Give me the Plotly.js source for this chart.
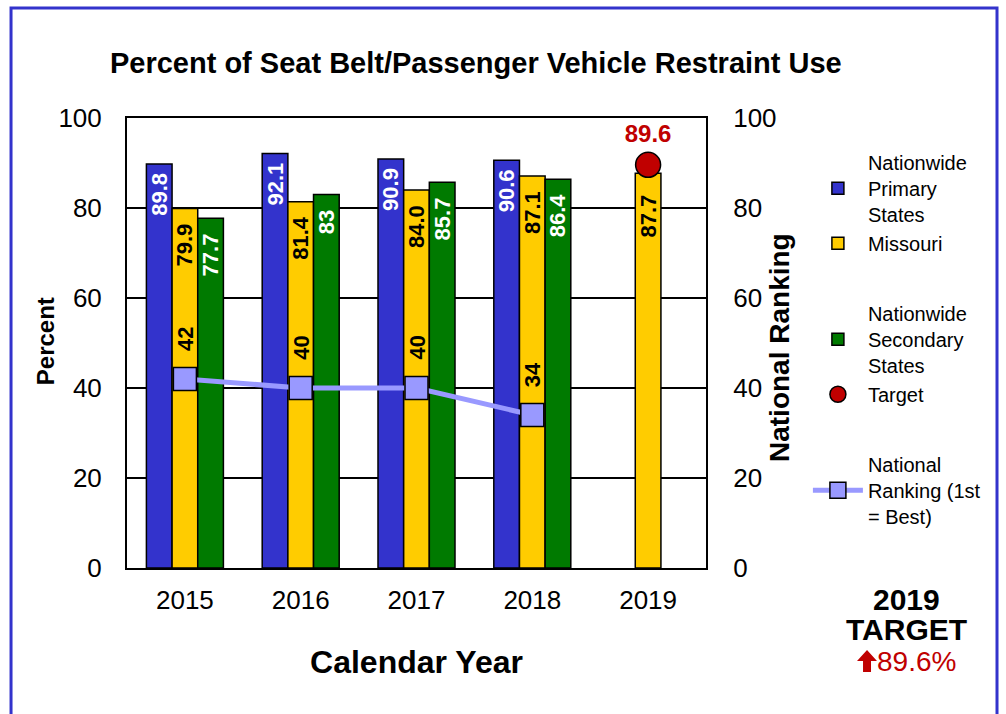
<!DOCTYPE html>
<html>
<head>
<meta charset="utf-8">
<script src="https://cdn.plot.ly/plotly-3.0.1.min.js"></script>
<style>
  html, body { margin: 0; padding: 0; background: #fff; }
  #chart { width: 1006px; height: 714px; }
</style>
</head>
<body>
<div id="chart"></div>
<script>
const years = ['2015', '2016', '2017', '2018', '2019'];
const primaryStates = [89.8, 92.1, 90.9, 90.6, null];
const missouri = [79.9, 81.4, 84.0, 87.1, 87.7];
const secondaryStates = [77.7, 83, 85.7, 86.4, null];
const rankYears = ['2015', '2016', '2017', '2018'];
const ranking = [42, 40, 40, 34];
const targetYear = ['2019'];
const target = [89.6];

const FONT = 'Liberation Sans, Arial, sans-serif';
const NB = '\u00A0';
// labels sit a little below the bar top, as in the original
const fmt = (v, pad) => (v == null ? '' : String(v) + NB.repeat(pad));
const fmt1 = (v, pad) => (v == null ? '' : v.toFixed(1) + NB.repeat(pad));

function barTrace(name, group, values, color, textColor, labels) {
  return {
    type: 'bar',
    name: name,
    legendgroup: group,
    x: years,
    y: values,
    text: labels,
    textposition: 'inside',
    insidetextanchor: 'end',
    textangle: -90,
    constraintext: 'none',
    textfont: { family: FONT, size: 22, color: textColor, weight: 'bold' },
    marker: { color: color, line: { color: '#000', width: 1.5 } },
    hoverinfo: 'x+y'
  };
}

const data = [
  barTrace('Nationwide<br>Primary<br>States', 'g1', primaryStates, '#3333CC', '#fff',
    primaryStates.map(v => fmt(v, 1))),
  barTrace('Missouri', 'g1', missouri, '#FFCC00', '#000',
    missouri.map((v, i) => fmt1(v, primaryStates[i] == null ? 3 : 2))),
  barTrace('Nationwide<br>Secondary<br>States', 'g2', secondaryStates, '#007A00', '#fff',
    secondaryStates.map(v => fmt(v, 2))),
  {
    type: 'scatter',
    mode: 'markers+text',
    name: 'Target',
    legendgroup: 'g2',
    x: targetYear,
    y: target,
    text: target.map(String),
    textposition: 'top center',
    textfont: { family: FONT, size: 24, color: '#C00000', weight: 'bold' },
    marker: { color: '#C00000', size: 25, line: { color: '#000', width: 1.5 } }
  },
  {
    type: 'scatter',
    mode: 'lines+markers',
    name: 'National<br>Ranking (1st<br>= Best)',
    legendgroup: 'g3',
    x: rankYears,
    y: ranking,
    yaxis: 'y2',
    line: { color: '#9999FF', width: 5 },
    marker: { symbol: 'square', color: '#9999FF', size: 23, line: { color: '#000', width: 1.5 } }
  }
];

// rank labels above the markers (category axis: position by index)
const annotations = rankYears.map((yr, i) => ({
  x: years.indexOf(yr), y: ranking[i], xref: 'x', yref: 'y2',
  text: String(ranking[i]), showarrow: false, textangle: -90,
  xanchor: 'center', yanchor: 'middle', yshift: 40,
  font: { family: FONT, size: 22, color: '#000', weight: 'bold' }
}));

const paperText = (x, y, text, size, color, bold, angle) => ({
  xref: 'paper', yref: 'paper', x: x, y: y, text: text, showarrow: false,
  xanchor: 'center', yanchor: 'middle', textangle: angle || 0,
  font: { family: FONT, size: size, color: color, weight: bold ? 'bold' : 'normal' }
});

annotations.push(
  paperText(-0.1416, 0.504, 'Percent', 24, '#000', true, -90),
  paperText(1.126, 0.491, 'National Ranking', 28, '#000', true, -90),
  paperText(1.347, -0.071, '2019', 30, '#000', true),
  paperText(1.347, -0.136, 'TARGET', 30, '#000', true),
  paperText(1.3644, -0.2067, '89.6%', 28, '#C00000', false)
);

const axisCommon = {
  range: [0, 100],
  dtick: 20,
  showline: true,
  linecolor: '#000',
  linewidth: 2,
  gridcolor: '#000',
  gridwidth: 1.5,
  zeroline: false,
  ticks: '',
  tickfont: { family: FONT, size: 26, color: '#000' },
  fixedrange: true
};

const layout = {
  width: 1006,
  height: 714,
  paper_bgcolor: '#fff',
  plot_bgcolor: '#fff',
  font: { family: FONT, color: '#000' },
  margin: { l: 127, r: 300, t: 118, b: 146 },
  title: {
    text: 'Percent of Seat Belt/Passenger Vehicle Restraint Use',
    font: { family: FONT, size: 29, color: '#000', weight: 'bold' },
    xref: 'container', x: 0.473, xanchor: 'center',
    yref: 'container', y: 0.912, yanchor: 'middle'
  },
  barmode: 'group',
  bargap: 0.335,
  bargroupgap: 0,
  showlegend: true,
  legend: {
    x: 1.176, xanchor: 'left', y: 0.945, yanchor: 'top',
    font: { family: FONT, size: 20, color: '#000' },
    traceorder: 'grouped',
    tracegroupgap: 41,
    itemwidth: 50,
    bgcolor: 'rgba(0,0,0,0)'
  },
  xaxis: {
    type: 'category',
    range: [-0.5, 4.5],
    showline: true,
    mirror: true,
    linecolor: '#000',
    linewidth: 2,
    ticks: '',
    ticklabelstandoff: 8,
    tickfont: { family: FONT, size: 26, color: '#000' },
    title: { text: 'Calendar Year', standoff: 36,
      font: { family: FONT, size: 32, color: '#000', weight: 'bold' } },
    fixedrange: true
  },
  yaxis: Object.assign({}, axisCommon, {
    mirror: true,
    ticklabelstandoff: 18
  }),
  yaxis2: Object.assign({}, axisCommon, {
    overlaying: 'y',
    side: 'right',
    showgrid: false,
    ticklabelstandoff: 20
  }),
  annotations: annotations,
  shapes: [
    {
      type: 'rect', xref: 'paper', yref: 'paper',
      x0: -0.2003, x1: 1.5026, y0: -0.4, y1: 1.2444,
      line: { color: '#3333CC', width: 3 }, layer: 'below'
    },
    {
      // red up-arrow in front of the target value
      type: 'path', xref: 'paper', yref: 'paper',
      path: 'M 1.2608,-0.2067 L 1.2781,-0.1822 L 1.2953,-0.2067 L 1.2850,-0.2067 ' +
            'L 1.2850,-0.2311 L 1.2712,-0.2311 L 1.2712,-0.2067 Z',
      fillcolor: '#C00000', line: { width: 0 }
    }
  ]
};

Plotly.newPlot('chart', data, layout, { displayModeBar: false, staticPlot: true });
</script>
</body>
</html>
